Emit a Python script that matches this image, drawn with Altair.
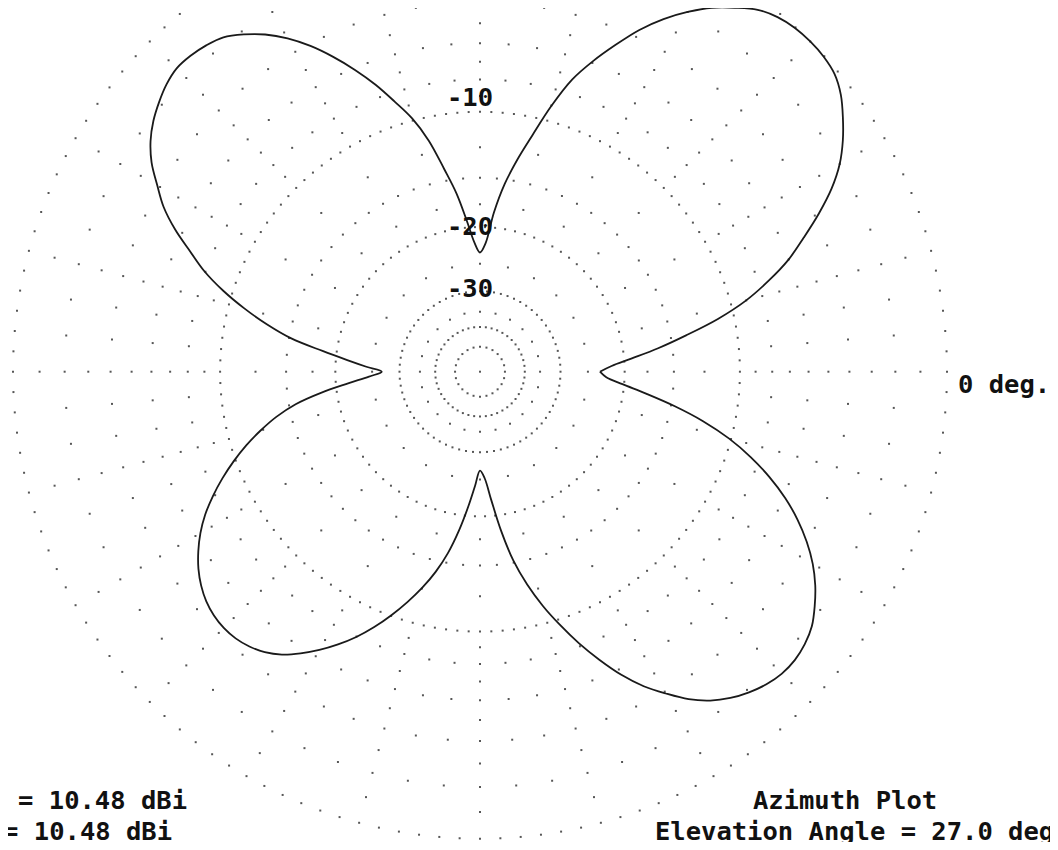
import pandas as pd
import altair as alt

# ---------------- values ----------------
AZIMUTH_DEG = [
    0, 2.5, 5, 7.5, 10, 12.5, 15, 17.5, 20, 22.5, 25, 27.5, 30, 32.5, 35, 37.5,
    40, 42.5, 45, 47.5, 50, 52.5, 55, 57.5, 60, 62.5, 65, 67.5, 70, 72.5, 75, 77.5,
    80, 82.5, 85, 87.5, 90, 92.5, 95, 97.5, 100, 102.5, 105, 107.5, 110, 112.5, 115, 117.5,
    120, 122.5, 125, 127.5, 130, 132.5, 135, 137.5, 140, 142.5, 145, 147.5, 150, 152.5, 155, 157.5,
    160, 162.5, 165, 167.5, 170, 172.5, 175, 177.5, 180, 182.5, 185, 187.5, 190, 192.5, 195, 197.5,
    200, 202.5, 205, 207.5, 210, 212.5, 215, 217.5, 220, 222.5, 225, 227.5, 230, 232.5, 235, 237.5,
    240, 242.5, 245, 247.5, 250, 252.5, 255, 257.5, 260, 262.5, 265, 267.5, 270, 272.5, 275, 277.5,
    280, 282.5, 285, 287.5, 290, 292.5, 295, 297.5, 300, 302.5, 305, 307.5, 310, 312.5, 315, 317.5,
    320, 322.5, 325, 327.5, 330, 332.5, 335, 337.5, 340, 342.5, 345, 347.5, 350, 352.5, 355, 357.5,
    360,
]
# gain relative to the outer ring (dB)
GAIN_DB = [
    -23.2, -21.6, -19.1, -16.3, -13.7, -11.1, -9.0, -7.4, -6.0, -4.9, -3.8, -2.8, -2.0, -1.4, -0.9, -0.45,
    -0.15, -0.03, 0.0, -0.03, -0.15, -0.4, -0.85, -1.35, -2.0, -2.75, -3.65, -4.75, -5.9, -7.2, -9.05, -11.2,
    -13.2, -15.4, -18.3, -22.0, -23.3, -21.9, -19.2, -16.3, -14.0, -11.6, -9.85, -8.55, -7.25, -6.1, -5.05, -4.1,
    -3.3, -2.65, -2.15, -1.75, -1.57, -1.47, -1.45, -1.6, -1.85, -2.15, -2.55, -3.1, -3.85, -4.6, -5.6, -6.8,
    -7.95, -9.4, -11.1, -13.0, -15.2, -18.4, -21.4, -24.1, -26.6, -24.5, -21.6, -18.3, -15.6, -13.75, -12.3, -11.0,
    -9.85, -8.8, -7.85, -7.0, -6.3, -5.72, -5.23, -4.85, -4.57, -4.4, -4.33, -4.36, -4.5, -4.75, -5.15, -5.72,
    -6.38, -7.13, -7.97, -8.95, -10.05, -11.25, -12.55, -14.05, -15.9, -18.3, -21.1, -24.0, -26.5, -25.2, -22.0, -18.3,
    -15.2, -13.0, -11.2, -9.65, -8.2, -6.9, -5.7, -4.7, -3.9, -3.15, -2.58, -2.17, -1.87, -1.65, -1.53, -1.53,
    -1.65, -1.88, -2.28, -2.75, -3.33, -4.05, -4.9, -5.9, -7.1, -8.5, -10.15, -12.2, -14.7, -17.5, -20.2, -22.3,
    -23.2,
]
MAX_GAIN_DBI = 10.48
ELEVATION_DEG = 27.0
FREQ_TEXT = "1 MHz"

RING_DB = [0, -10, -20, -30, -40, -50]          # dotted rings
LABELLED_RINGS = [-10, -20, -30]
MINOR_DB_EVERY_15 = [-1, -3, -5, -7, -9, -12.5, -17.5, -25, -35]
MINOR_DB_EVERY_5 = [-2, -4, -6, -8, -15]

# ---------------- layout / style ----------------
W, H = 1042, 834
CX, CY = 472.0, 363.7       # centre of the plot in svg pixels
R = 467.0                   # outer ring radius in pixels
K = 0.0586                  # log-scale factor (ARRL style)
RING_STEP = {0: 2.5, -10: 2.5, -20: 4.0, -30: 5.0, -40: 7.5, -50: 15.0}
FONT = "DejaVu Sans Mono"
FS = 25.5

xs = alt.Scale(domain=[-CX / R, (W - CX) / R], nice=False, zero=False)
ys = alt.Scale(domain=[-(H - CY) / R, CY / R], nice=False, zero=False)

pattern = pd.DataFrame({"az": AZIMUTH_DEG, "db": GAIN_DB})

grid_rows = []
for db in RING_DB:
    step = RING_STEP[db]
    n = int(round(360 / step))
    for i in range(n):
        grid_rows.append({"db": db, "az": i * step})
for db in MINOR_DB_EVERY_15:
    for i in range(24):
        grid_rows.append({"db": db, "az": i * 15})
for db in MINOR_DB_EVERY_5:
    for i in range(72):
        grid_rows.append({"db": db, "az": i * 5})
grid_rows.append({"db": -200, "az": 0})  # centre dot
grid = pd.DataFrame(grid_rows)

calc_x = f"exp({K}*datum.db)*cos(datum.az*PI/180)"
calc_y = f"exp({K}*datum.db)*sin(datum.az*PI/180)"

dots = (
    alt.Chart(grid)
    .transform_calculate(px=calc_x, py=calc_y)
    .mark_square(size=4, color="#444444", opacity=0.9)
    .encode(x=alt.X("px:Q", scale=xs, axis=None), y=alt.Y("py:Q", scale=ys, axis=None))
)

curve = (
    alt.Chart(pattern)
    .transform_calculate(px=calc_x, py=calc_y)
    .mark_line(color="#1a1a1a", strokeWidth=1.8, interpolate="catmull-rom")
    .encode(
        x=alt.X("px:Q", scale=xs, axis=None),
        y=alt.Y("py:Q", scale=ys, axis=None),
        order=alt.Order("az:Q"),
    )
)


def label(text, x, y, align="left"):
    return (
        alt.Chart(alt.Data(values=[{}]))
        .mark_text(text=text, font=FONT, fontSize=FS, fontWeight="bold",
                   color="#111111", align=align, baseline="middle")
        .encode(x=alt.value(x), y=alt.value(y))
    )


ring_label_y = {-10: 89.5, -20: 218.5, -30: 281.0}
texts = [label(f"{db}", CX - 10, ring_label_y[db], "center") for db in LABELLED_RINGS]
texts += [
    label("0 deg.", 950, 377, "left"),
    label(f"Outer Ring = {MAX_GAIN_DBI:.2f} dBi", 179, 793, "right"),
    label(f"Max. Gain = {MAX_GAIN_DBI:.2f} dBi", 164, 824, "right"),
    label("Azimuth Plot", 837, 793, "center"),
    label(f"Elevation Angle = {ELEVATION_DEG:.1f} deg.", 647, 824, "left"),
    label(FREQ_TEXT, -8, -10, "left"),
]

chart = (
    alt.layer(dots, curve, *texts)
    .properties(
        width=W,
        height=H,
        autosize=alt.AutoSizeParams(type="none"),
        padding={"left": 0, "top": 0, "right": 0, "bottom": 0},
        background="white",
    )
    .configure_view(strokeOpacity=0)
)

chart.save("out.html", embed_options={"renderer": "svg", "actions": False})
